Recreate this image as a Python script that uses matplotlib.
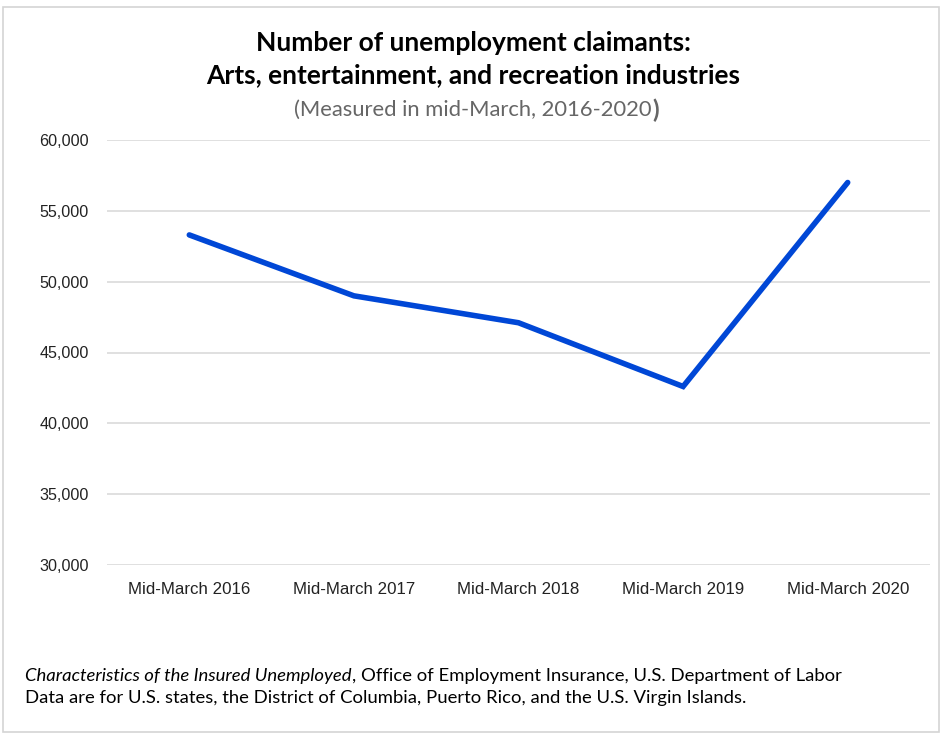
import matplotlib
matplotlib.use("Agg")
import matplotlib.pyplot as plt
from matplotlib.patches import Rectangle

categories = ["Mid-March 2016", "Mid-March 2017", "Mid-March 2018",
              "Mid-March 2019", "Mid-March 2020"]
claimants = [53300, 49000, 47100, 42600, 57000]
y_ticks = [30000, 35000, 40000, 45000, 50000, 55000, 60000]

fig = plt.figure(figsize=(9.46, 7.39), dpi=100)
fig.patch.set_facecolor("white")

# light grey frame round the whole picture
fig.add_artist(Rectangle((3 / 946, 7 / 739), 936 / 946, 725 / 739,
                         transform=fig.transFigure, fill=False,
                         edgecolor="#d4d4d4", linewidth=1.2))

# axes box in pixels: x 107..930, y 140..565
ax = fig.add_axes([107 / 946, 1 - 565 / 739, 823 / 946, 425 / 739])
x = list(range(len(categories)))
ax.plot(x, claimants, color="#0047d6", linewidth=4, solid_capstyle="round",
        solid_joinstyle="miter", zorder=3)

ax.set_xlim(-0.5, len(categories) - 0.5)
ax.set_ylim(30000, 60000)
ax.set_yticks(y_ticks)
ax.set_yticklabels([f"{v:,}" for v in y_ticks])
ax.set_xticks(x)
ax.set_xticklabels(categories)
ax.grid(axis="y", color="#e0e0e0", linewidth=1.4)
ax.set_axisbelow(True)
for s in ax.spines.values():
    s.set_visible(False)
ax.tick_params(axis="both", length=0, colors="#222222")
ax.tick_params(axis="y", pad=13, labelsize=11.6)
ax.tick_params(axis="x", pad=12, labelsize=12.2)
for lab in ax.get_xticklabels() + ax.get_yticklabels():
    lab.set_fontfamily("Liberation Sans")

# titles
fig.text(0.5, 1 - 43 / 739, "Number of unemployment claimants:", ha="center",
         va="center", fontsize=19, fontweight="bold", family="Lato")
fig.text(0.5, 1 - 75 / 739, "Arts, entertainment, and recreation industries",
         ha="center", va="center", fontsize=19, fontweight="bold", family="Lato")
sub = fig.text(0.5, 1 - 110 / 739, "(Measured in mid-March, 2016-2020",
               ha="center", va="center", fontsize=15.8, color="#666666",
               family="Lato")
fig.canvas.draw()
bb = sub.get_window_extent()
fig.text((bb.x1 + 1) / 946, 1 - 110 / 739, ")", ha="left", va="center",
         fontsize=17.5, fontweight="bold", color="#666666", family="Lato")

# source notes
fig.text(25 / 946, 1 - 676 / 739,
         "Characteristics of the Insured Unemployed", ha="left", va="center",
         fontsize=13.3, style="italic", family="Lato")
src = fig.texts[-1]
fig.canvas.draw()
bb = src.get_window_extent()
fig.text(bb.x1 / 946, 1 - 676 / 739,
         ", Office of Employment Insurance, U.S. Department of Labor",
         ha="left", va="center", fontsize=13.3, family="Lato")
fig.text(25 / 946, 1 - 698 / 739,
         "Data are for U.S. states, the District of Columbia, Puerto Rico, "
         "and the U.S. Virgin Islands.",
         ha="left", va="center", fontsize=13.3, family="Lato")

fig.savefig("out.png", dpi=100, facecolor="white")
